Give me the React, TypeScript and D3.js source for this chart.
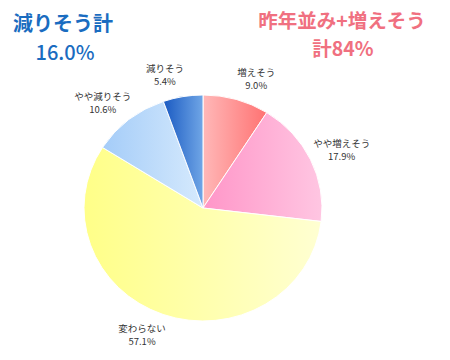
import React from "react";
import * as d3 from "d3";

const categories = ["増えそう", "やや増えそう", "変わらない", "やや減りそう", "減りそう"];
const values = [9.0, 17.9, 57.1, 10.6, 5.4];
const valueLabels = ["9.0%", "17.9%", "57.1%", "10.6%", "5.4%"];
const gradStops: [string, string][] = [
  ["#ffb8b8", "#ff7272"],
  ["#ff96c8", "#ffc6e2"],
  ["#ffff88", "#ffffd2"],
  ["#a4ccf8", "#d6eafd"],
  ["#1a5ac2", "#70a6e6"],
];
const leftTitle = ["減りそう計", "16.0%"];
const rightTitle = ["昨年並み+増えそう", "計84%"];

const W = 450;
const H = 360;
const cx = 203;
const cy = 208;
const rx = 119;
const ry = 113;
const font = "'Noto Sans CJK JP', sans-serif";

export default function App() {
  const pie = d3.pie<number>().sort(null).value((d) => d);
  const arcs = pie(values);
  const arc = d3.arc<d3.PieArcDatum<number>>().innerRadius(0).outerRadius(rx);
  return (
    <svg width={W} height={H} style={{ position: "absolute", left: 0, top: 0, background: "#fff" }}>
      <defs>
        {gradStops.map((g, i) => (
          <linearGradient key={i} id={`g${i}`} gradientUnits="objectBoundingBox" x1="0" y1="0" x2="1" y2="0">
            <stop offset="0" stopColor={g[0]} />
            <stop offset="1" stopColor={g[1]} />
          </linearGradient>
        ))}
      </defs>
      <g transform={`translate(${cx},${cy}) scale(1,${ry / rx})`}>
        {arcs.map((a, i) => (
          <path key={i} d={arc(a) || ""} fill={`url(#g${i})`} stroke="#fff" strokeWidth={1} />
        ))}
      </g>
      {arcs.map((a, i) => {
        const mid = (a.startAngle + a.endAngle) / 2;
        const s = Math.sin(mid);
        const x = cx + s * rx * 1.15 + Math.sign(s) * 15;
        const y = cy - Math.cos(mid) * ry * 1.19;
        return (
          <g key={i} fontFamily={font} fontSize={9.5} fill="#333" textAnchor="middle">
            <text x={x} y={y - 3}>{categories[i]}</text>
            <text x={x} y={y + 10}>{valueLabels[i]}</text>
          </g>
        );
      })}
      <g fontFamily={font} textAnchor="middle" fill="#1a6cc0">
        <text x={63} y={31} fontSize={20} fontWeight="bold">{leftTitle[0]}</text>
        <text x={65} y={60} fontSize={20} fontWeight="500">{leftTitle[1]}</text>
      </g>
      <g fontFamily={font} textAnchor="middle" fill="#f07080">
        <text x={342} y={28} fontSize={19.5} fontWeight="bold">{rightTitle[0]}</text>
        <text x={343} y={56} fontSize={19.5} fontWeight="bold">{rightTitle[1]}</text>
      </g>
    </svg>
  );
}
